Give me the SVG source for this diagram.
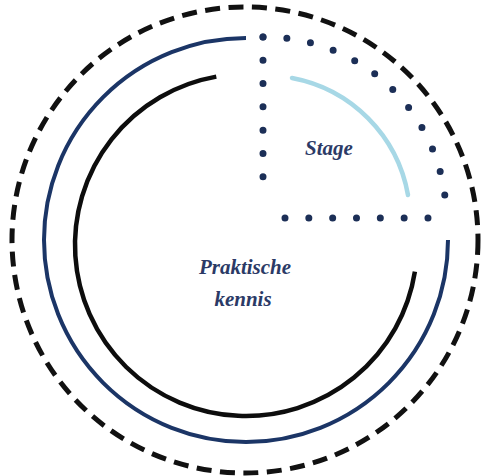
<svg xmlns="http://www.w3.org/2000/svg" width="487" height="476" viewBox="0 0 487 476">
<style>
.lbl{font-family:"Liberation Serif","DejaVu Serif",serif;font-style:italic;font-weight:bold;font-size:21px;fill:#2b3a66;text-anchor:middle}
.dot{fill:none;stroke:#1c2f57;stroke-width:7;stroke-linecap:round}
</style>
<rect width="487" height="476" fill="#ffffff"/>
<g id="outer">
<circle cx="245" cy="240" r="233" fill="none" stroke="#111" stroke-width="5" stroke-dasharray="15 8.5"/>
</g>
<g id="blue-ring">
<path d="M448,240 A202,202 0 1 1 246,38" fill="none" stroke="#1b3566" stroke-width="4"/>
</g>
<g id="praktische">
<path d="M414.9,271.7 A171,171 0 1 1 216.3,76.6" fill="none" stroke="#0d0d0d" stroke-width="4.5"/>
<text class="lbl" x="245" y="274">Praktische</text>
<text class="lbl" x="243" y="306">kennis</text>
</g>
<g id="stage">
<path class="dot" d="M263,37 V200" stroke-dasharray="0 23.29"/>
<path class="dot" d="M285,218 H428" stroke-dasharray="0 23.83"/>
<path class="dot" d="M263,37 A181,181 0 0 1 445,197" stroke-dasharray="0 23.95"/>
<path d="M292,78 A145,145 0 0 1 408,195" fill="none" stroke="#a7d8e6" stroke-width="4.5" stroke-linecap="round"/>
<text class="lbl" x="329" y="155">Stage</text>
</g>
</svg>
